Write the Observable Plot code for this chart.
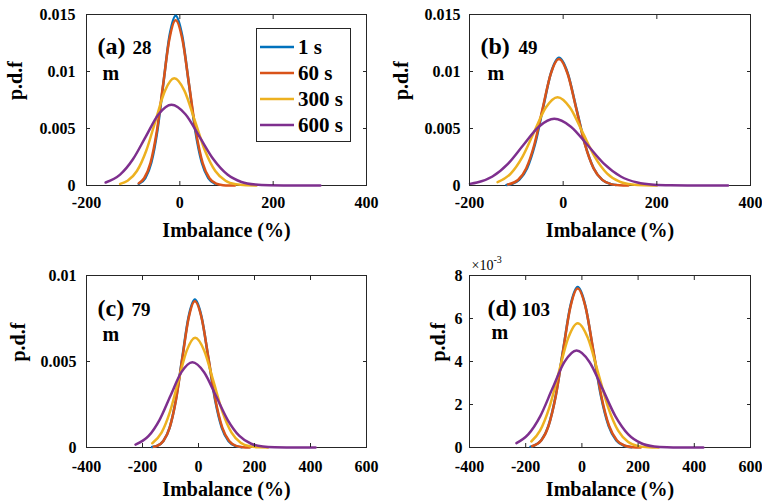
<!DOCTYPE html>
<html>
<head>
<meta charset="utf-8">
<script src="https://cdn.jsdelivr.net/npm/d3@7"></script>
<script src="https://cdn.jsdelivr.net/npm/@observablehq/plot@0.6"></script>
<style>
  html, body { margin: 0; padding: 0; background: #fff; }
  #wrap { position: relative; width: 762px; height: 501px; overflow: hidden; background: #fff; }
  #wrap > svg, #wrap > figure { position: absolute; margin: 0; }
  #legend { position: absolute; left: 256px; top: 28px; width: 93px; height: 107px; border: 1px solid #262626; background: #fff;
            font-family: "Liberation Serif", "Times New Roman", "DejaVu Serif", serif; font-weight: bold; font-size: 21px; color: #000; box-sizing: content-box; padding-top: 5px; }
  .row { display: flex; align-items: center; height: 26px; padding-left: 3px; }
  .row svg { margin-right: 4px; }
</style>
</head>
<body>
<div id="wrap"></div>
<script>
// ---- legend / series names and colours ----
const times = ["1 s", "60 s", "300 s", "600 s"];
const colors = ["#0072BD", "#D95319", "#EDB120", "#7E2F8E"];

// ---- panel titles ----
const tags = ["(a)", "(b)", "(c)", "(d)"];
const depths = ["28", "49", "79", "103"];

// ---- ticks ----
const xTicksAB = [-200, 0, 200, 400];
const xTicksCD = [-400, -200, 0, 200, 400, 600];
const yTicksAB = [0, 0.005, 0.01, 0.015];
const yLabelsAB = ["0", "0.005", "0.01", "0.015"];
const yTicksC = [0, 0.005, 0.01];
const yLabelsC = ["0", "0.005", "0.01"];
const yTicksD = [0, 0.002, 0.004, 0.006, 0.008];
const yLabelsD = ["0", "2", "4", "6", "8"];

// ---- (a) 28 m : [imbalance %, pdf] ----
const a_1s = [[-88,0.000142],[-74,0.000654],[-61,0.00202],[-48,0.00484],[-35,0.00904],[-22,0.01315],[-9,0.0149],[5,0.01315],[19,0.00904],[33,0.00484],[47,0.00202],[61,0.000654],[75,0.000165]];
const a_60s = [[-88,0.000198],[-76.5,0.000637],[-63,0.00196],[-49.5,0.00471],[-36,0.00879],[-22.5,0.0128],[-9,0.0145],[5.5,0.0128],[20,0.00879],[34.5,0.00471],[49,0.00196],[63.5,0.000637],[78,0.000161],[92.5,0.0000318],[107,0.0000049],[118,0]];
const a_300s = [[-128,0.00014],[-112,0.000413],[-92,0.00127],[-72,0.00305],[-52,0.0057],[-32,0.0083],[-12,0.0094],[10,0.0083],[32,0.0057],[54,0.00305],[76,0.00127],[98,0.000413],[120,0.000104],[142,0.0000206],[164,0.0000031]];
const a_600s = [[-159,0.000267],[-128,0.000958],[-100.5,0.0023],[-73,0.00429],[-45.5,0.00625],[-18,0.00708],[12,0.00625],[42,0.00429],[72,0.0023],[102,0.000958],[132,0.000311],[162,0.0000786],[192,0.0000155],[222,0.0000024],[301,0]];

// ---- (b) 49 m ----
const b_1s = [[-121,0.0000484],[-111,0.000124],[-94,0.000492],[-77,0.00152],[-60,0.00364],[-43,0.00679],[-26,0.00988],[-9,0.0112],[9.5,0.00988],[28,0.00679],[46.5,0.00364],[65,0.00152],[83.5,0.000492],[102,0.000124],[113,0.0000484]];
const b_60s = [[-118,0.0000877],[-96.5,0.000487],[-79,0.0015],[-61.5,0.0036],[-44,0.00673],[-26.5,0.0098],[-9,0.0111],[9.5,0.0098],[28,0.00673],[46.5,0.0036],[65,0.0015],[83.5,0.000487],[102,0.000123],[120.5,0.0000243],[139,0.0000037]];
const b_300s = [[-140,0.000292],[-112,0.00105],[-87,0.00252],[-62,0.0047],[-37,0.00684],[-12,0.00775],[14.5,0.00684],[41,0.0047],[67.5,0.00252],[94,0.00105],[120.5,0.00034],[147,0.000086],[173.5,0.000017],[200,0.0000026]];
const b_600s = [[-199,0.000141],[-184,0.000257],[-151,0.000792],[-118,0.0019],[-85,0.00355],[-52,0.00516],[-19,0.00585],[16.5,0.00516],[52,0.00355],[87.5,0.0019],[123,0.000792],[158.5,0.000257],[194,0.000065],[229.5,0.0000128],[265,0.000002],[352,0]];

// ---- (c) 79 m ----
const c_1s = [[-166,0.0000266],[-148,0.0000955],[-125.5,0.000378],[-103,0.00116],[-80.5,0.00279],[-58,0.00522],[-35.5,0.00759],[-13,0.0086],[11,0.00759],[35,0.00522],[59,0.00279],[83,0.00116],[107,0.000378],[131,0.0000955],[155,0.0000188]];
const c_60s = [[-160,0.0000405],[-148,0.0000944],[-125.5,0.000373],[-103,0.00115],[-80.5,0.00276],[-58,0.00516],[-35.5,0.0075],[-13,0.0085],[11.5,0.0075],[36,0.00516],[60.5,0.00276],[85,0.00115],[109.5,0.000373],[134,0.0000944],[158.5,0.0000186],[183,0.0000028]];
const c_300s = [[-165,0.000247],[-132,0.000863],[-102,0.00207],[-72,0.00387],[-42,0.00563],[-12,0.00638],[20.5,0.00563],[53,0.00387],[85.5,0.00207],[118,0.000863],[150.5,0.00028],[183,0.0000708],[215.5,0.000014],[248,0.0000021]];
const c_600s = [[-225,0.000169],[-178,0.000671],[-139,0.00161],[-100,0.00301],[-61,0.00438],[-22,0.00496],[20,0.00438],[62,0.00301],[104,0.00161],[146,0.000671],[188,0.000218],[230,0.000055],[272,0.0000109],[314,0.0000017],[418,0]];

// ---- (d) 103 m ----
const d_1s = [[-183,0.0000405],[-171,0.0000828],[-145,0.000327],[-119,0.00101],[-93,0.00242],[-67,0.00452],[-41,0.00658],[-15,0.00746],[12.5,0.00658],[40,0.00452],[67.5,0.00242],[95,0.00101],[122.5,0.000327],[150,0.0000828],[177.5,0.0000163]];
const d_60s = [[-177,0.000057],[-145,0.000325],[-119,0.001],[-93,0.0024],[-67,0.00449],[-41,0.00653],[-15,0.0074],[13,0.00653],[41,0.00449],[69,0.0024],[97,0.001],[125,0.000325],[153,0.0000821],[181,0.0000162],[209,0.0000025]];
const d_300s = [[-180,0.00028],[-149,0.000782],[-115.5,0.00188],[-82,0.00351],[-48.5,0.0051],[-15,0.00578],[21,0.0051],[57,0.00351],[93,0.00188],[129,0.000782],[165,0.000254],[201,0.0000642],[237,0.0000127],[273,0.0000019]];
const d_600s = [[-233,0.000203],[-191,0.00061],[-148,0.00146],[-105,0.00274],[-62,0.00398],[-19,0.00451],[27,0.00398],[73,0.00274],[119,0.00146],[165,0.00061],[211,0.000198],[257,0.00005],[303,0.0000099],[349,0.0000015],[432,0]];

const FONT = "'Liberation Serif', 'Times New Roman', 'DejaVu Serif', serif";

function panel(cfg) {
  const lab = (ticks, labels) => d => labels[ticks.indexOf(d)] ?? "";
  const marks = [
    Plot.frame({stroke: "#262626", strokeWidth: 1}),
    ...cfg.series.map((s, i) => Plot.line(s, {x: d => d[0], y: d => d[1], stroke: colors[i], strokeWidth: 2.5, curve: "monotone-x"})),
    Plot.axisX(cfg.xTicks, {anchor: "bottom", tickSize: -4, tickFormat: () => "", label: null, stroke: "#262626"}),
    Plot.axisX(cfg.xTicks, {anchor: "top", tickSize: -4, tickFormat: () => "", label: null, stroke: "#262626"}),
    Plot.axisY(cfg.yTicks, {anchor: "left", tickSize: -4, tickFormat: () => "", label: null, stroke: "#262626"}),
    Plot.axisY(cfg.yTicks, {anchor: "right", tickSize: -4, tickFormat: () => "", label: null, stroke: "#262626"}),
    Plot.axisX(cfg.xTicks, {anchor: "bottom", tickSize: 0, tickPadding: cfg.xPad, tickFormat: d => String(d), label: null, fontSize: 16, fontWeight: "bold", fill: "#000"}),
    Plot.axisY(cfg.yTicks, {anchor: "left", tickSize: 0, tickPadding: cfg.yPad, tickFormat: lab(cfg.yTicks, cfg.yLabels), label: null, fontSize: 16, fontWeight: "bold", fill: "#000"}),
    Plot.text(["Imbalance (%)"], {frameAnchor: "bottom", dy: cfg.titleDy, fontSize: 20, fontWeight: "bold", lineAnchor: "middle", fill: "#000"}),
    Plot.text(["p.d.f"], {frameAnchor: "left", dx: cfg.ylabDx, rotate: -90, fontSize: 20, fontWeight: "bold", lineAnchor: "middle", fill: "#000"}),
    Plot.text([cfg.tag], {frameAnchor: "top-left", dx: cfg.tagPos[0], dy: cfg.tagPos[1], textAnchor: "start", lineAnchor: "bottom", fontSize: 24, fontWeight: "bold", fill: "#000"}),
    Plot.text([cfg.depth], {frameAnchor: "top-left", dx: cfg.depthPos[0], dy: cfg.depthPos[1], textAnchor: "start", lineAnchor: "bottom", fontSize: 19, fontWeight: "bold", fill: "#000"}),
    Plot.text(["m"], {frameAnchor: "top-left", dx: cfg.mPos[0], dy: cfg.mPos[1], textAnchor: "start", lineAnchor: "bottom", fontSize: 20, fontWeight: "bold", fill: "#000"}),
    ...(cfg.extra || [])
  ];
  const svg = Plot.plot({
    width: cfg.w, height: cfg.h,
    marginLeft: cfg.ml, marginRight: cfg.mr, marginTop: cfg.mt, marginBottom: cfg.mb,
    x: {domain: cfg.xDomain},
    y: {domain: cfg.yDomain},
    style: {fontFamily: FONT, fontSize: "16px", fontWeight: "bold", color: "#000", background: "transparent", overflow: "visible"},
    marks
  });
  svg.style.left = cfg.left + "px";
  svg.style.top = cfg.top + "px";
  return svg;
}

const wrap = document.getElementById("wrap");

wrap.appendChild(panel({
  series: [a_1s, a_60s, a_300s, a_600s], xDomain: [-200, 400], xTicks: xTicksAB,
  yDomain: [0, 0.015], yTicks: yTicksAB, yLabels: yLabelsAB,
  left: 0, top: 0, w: 381, h: 250, ml: 86, mr: 15, mt: 14, mb: 65,
  xPad: 11, yPad: 11, titleDy: 45, ylabDx: -71,
  tag: tags[0], depth: depths[0], tagPos: [11, 39], depthPos: [46, 39], mPos: [16, 65]
}));

wrap.appendChild(panel({
  series: [b_1s, b_60s, b_300s, b_600s], xDomain: [-200, 400], xTicks: xTicksAB,
  yDomain: [0, 0.015], yTicks: yTicksAB, yLabels: yLabelsAB,
  left: 381, top: 0, w: 381, h: 250, ml: 88, mr: 12, mt: 14, mb: 65,
  xPad: 11, yPad: 9, titleDy: 45, ylabDx: -68,
  tag: tags[1], depth: depths[1], tagPos: [11, 39], depthPos: [49, 39], mPos: [18, 65]
}));

wrap.appendChild(panel({
  series: [c_1s, c_60s, c_300s, c_600s], xDomain: [-400, 600], xTicks: xTicksCD,
  yDomain: [0, 0.01], yTicks: yTicksC, yLabels: yLabelsC,
  left: 0, top: 250, w: 381, h: 251, ml: 86, mr: 15, mt: 25, mb: 54,
  xPad: 13, yPad: 10, titleDy: 42, ylabDx: -68,
  tag: tags[2], depth: depths[2], tagPos: [11, 40], depthPos: [45, 40], mPos: [16, 65]
}));

wrap.appendChild(panel({
  series: [d_1s, d_60s, d_300s, d_600s], xDomain: [-400, 600], xTicks: xTicksCD,
  yDomain: [0, 0.008], yTicks: yTicksD, yLabels: yLabelsD,
  left: 381, top: 250, w: 381, h: 251, ml: 88, mr: 12, mt: 25, mb: 54,
  xPad: 13, yPad: 7, titleDy: 42, ylabDx: -31,
  tag: tags[3], depth: depths[3], tagPos: [18, 40], depthPos: [52, 40], mPos: [22, 63],
  extra: [
    Plot.text(["×10"], {frameAnchor: "top-left", dx: 2, dy: -6, textAnchor: "start", lineAnchor: "bottom", fontSize: 14, fontWeight: "normal", fill: "#000"}),
    Plot.text(["-3"], {frameAnchor: "top-left", dx: 24, dy: -13, textAnchor: "start", lineAnchor: "bottom", fontSize: 10, fontWeight: "normal", fill: "#000"})
  ]
}));

// legend
const legend = document.createElement("div");
legend.id = "legend";
times.forEach((t, i) => {
  const row = document.createElement("div");
  row.className = "row";
  row.innerHTML = `<svg width="34" height="6"><line x1="0" x2="34" y1="3" y2="3" stroke="${colors[i]}" stroke-width="2.5"/></svg><span>${t}</span>`;
  legend.appendChild(row);
});
wrap.appendChild(legend);
</script>
</body>
</html>
